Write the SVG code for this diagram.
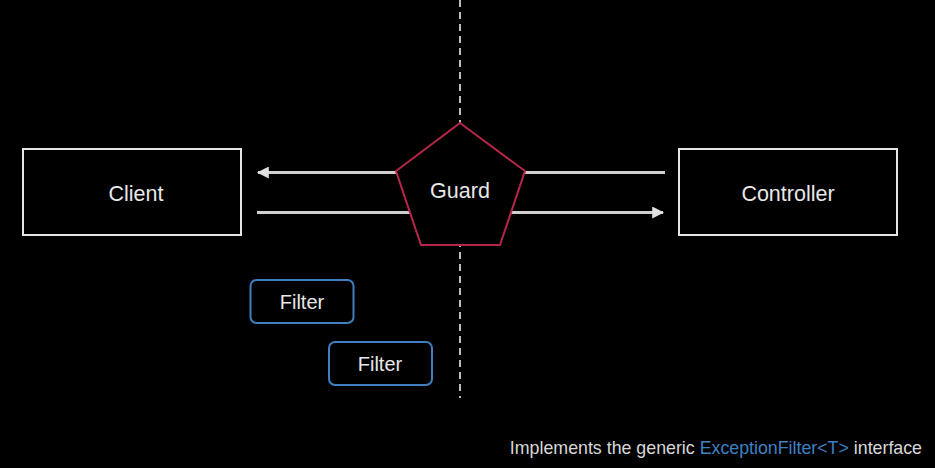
<svg xmlns="http://www.w3.org/2000/svg" width="935" height="468" viewBox="0 0 935 468">
<defs>
<style>
.box{fill:#000;stroke:#e6e6e6;stroke-width:2}
.filter{fill:#000;stroke:#3f7fc0;stroke-width:2}
.line{stroke:#cfcfcf;stroke-width:3;fill:none}
.lbl{font-family:"Liberation Sans",Arial,sans-serif;fill:#e8e8e8;text-anchor:middle}
</style>
<marker id="ah" viewBox="0 0 10 10" refX="9" refY="5" markerWidth="4" markerHeight="4" orient="auto-start-reverse" markerUnits="strokeWidth">
<path d="M0,0 L10,5 L0,10 z" fill="#e0e0e0"/>
</marker>
</defs>
<rect width="935" height="468" fill="#000"/>
<line x1="460" y1="0" x2="460" y2="398" stroke="#bdbdbd" stroke-width="2" stroke-dasharray="7,5"/>
<g id="connectors">
<line class="line" x1="396" y1="172.5" x2="258" y2="172.5" marker-end="url(#ah)"/>
<line class="line" x1="665" y1="172.5" x2="525" y2="172.5"/>
<line class="line" x1="257" y1="212.5" x2="663" y2="212.5" marker-end="url(#ah)"/>
</g>
<g id="client">
<rect class="box" x="23" y="149" width="218" height="86"/>
<text class="lbl" x="136" y="200.5" font-size="21.5">Client</text>
</g>
<g id="controller">
<rect class="box" x="679" y="149" width="218" height="86"/>
<text class="lbl" x="788" y="200.5" font-size="21.5">Controller</text>
</g>
<g id="guard">
<polygon points="460,123 525,171 500,245 421,245 396,171" fill="#000" stroke="#b8254a" stroke-width="2"/>
<text class="lbl" x="460" y="198" font-size="21.5">Guard</text>
</g>
<g id="filter1">
<rect class="filter" x="250.5" y="280" width="103" height="43" rx="6"/>
<text class="lbl" x="302" y="309" font-size="20">Filter</text>
</g>
<g id="filter2">
<rect class="filter" x="329" y="342" width="103" height="43" rx="6"/>
<text class="lbl" x="380" y="371" font-size="20">Filter</text>
</g>
<text x="922" y="454" font-family="'Liberation Sans',Arial,sans-serif" font-size="17.8" fill="#d8d8d8" text-anchor="end">Implements the generic <tspan fill="#3f80c4">ExceptionFilter&lt;T&gt;</tspan> interface</text>
</svg>
